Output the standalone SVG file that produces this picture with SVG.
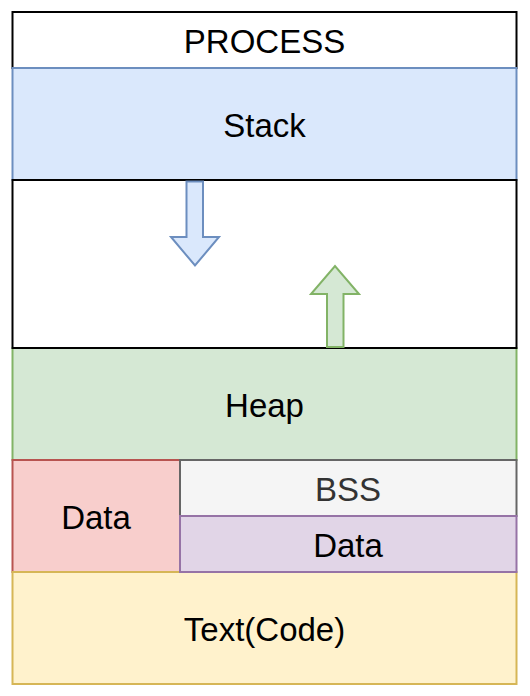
<svg xmlns="http://www.w3.org/2000/svg" width="530" height="696" viewBox="0 0 530 696">
  <style>
    rect, polygon { stroke-width: 2; }
    text { font-family: "Liberation Sans", Arial, Helvetica, sans-serif; font-size: 33px; text-anchor: middle; fill: #000000; }
    .plain { fill: #ffffff; stroke: #000000; }
    .blue { fill: #dae8fc; stroke: #6c8ebf; }
    .green { fill: #d5e8d4; stroke: #82b366; }
    .red { fill: #f8cecc; stroke: #b85450; }
    .gray { fill: #f5f5f5; stroke: #666666; }
    .purple { fill: #e1d5e7; stroke: #9673a6; }
    .yellow { fill: #fff2cc; stroke: #d6b656; }
    .muted { fill: #333333; }
  </style>
  <rect width="530" height="696" fill="#ffffff"/>

  <g id="process">
    <rect class="plain" x="12.5" y="12" width="504" height="56"/>
    <text x="264.5" y="53">PROCESS</text>
  </g>

  <g id="stack">
    <rect class="blue" x="12.5" y="68" width="504" height="112"/>
    <text x="264.5" y="137">Stack</text>
  </g>

  <g id="heap">
    <rect class="green" x="12.5" y="348" width="504" height="112"/>
    <text x="264.5" y="417">Heap</text>
  </g>

  <g id="free-space">
    <rect class="plain" x="12.5" y="180" width="504" height="168"/>
  </g>

  <g id="data-segment">
    <rect class="red" x="12.5" y="460" width="167.5" height="112"/>
    <text x="96" y="529">Data</text>
  </g>

  <g id="text-code">
    <rect class="yellow" x="12.5" y="572" width="504" height="112"/>
    <text x="264.5" y="641">Text(Code)</text>
  </g>

  <g id="bss">
    <rect class="gray" x="180" y="460" width="336.5" height="56"/>
    <text class="muted" x="348" y="501">BSS</text>
  </g>

  <g id="initialized-data">
    <rect class="purple" x="180" y="516" width="336.5" height="56"/>
    <text x="348" y="557">Data</text>
  </g>

  <g id="connectors">
    <!-- stack grows downward -->
    <polygon class="blue" points="186.5,181.5 203,181.5 203,237 219,237 195,265.5 171,237 186.5,237"/>
    <!-- heap grows upward -->
    <polygon class="green" points="327,347 343.5,347 343.5,294 359,294 335,266 311,294 327,294"/>
  </g>
</svg>
